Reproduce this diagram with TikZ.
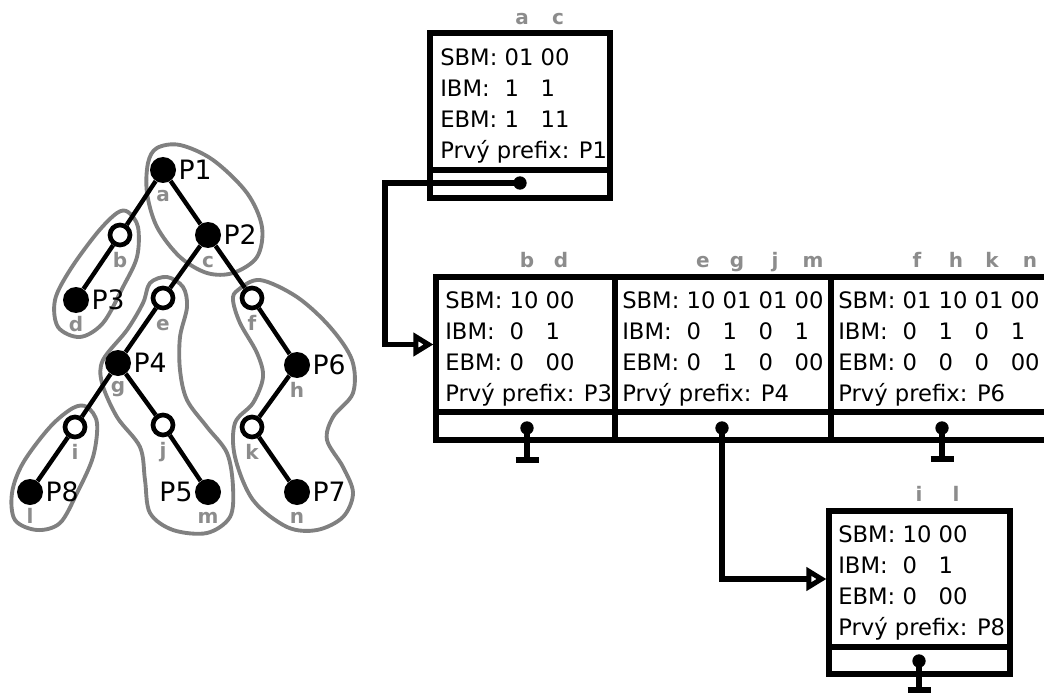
\documentclass[tikz,border=0pt]{standalone}
\usepackage{fontspec}
\setmainfont{DejaVu Sans}
\usetikzlibrary{arrows.meta,fit,calc}
\definecolor{lblgray}{HTML}{8C8C8C}
\definecolor{hullgray}{HTML}{808080}
\newlength\labw
\newlength\colw
\newcommand\boxfont{\fontsize{17pt}{23.25pt}\selectfont}
\newcommand\rw[1]{\makebox[\labw][l]{#1}}
\newcommand\cw[1]{\makebox[\colw][l]{#1}}
\AtBeginDocument{\setbox0\hbox{\normalfont\boxfont SBM:\ }\global\labw=\wd0
  \setbox0\hbox{\normalfont\boxfont 00\ }\global\colw=\wd0}
\tikzset{
  full/.style={circle, fill=black, inner sep=0pt, minimum size=19.5pt},
  open/.style={circle, draw=black, fill=white, line width=3.5pt, inner sep=0pt, minimum size=15pt},
  edge/.style={line width=3.3pt, black},
  hull/.style={line width=2.9pt, draw=hullgray},
  plab/.style={font=\fontsize{20pt}{22pt}\selectfont, inner sep=0pt},
  glab/.style={font=\fontsize{15pt}{17pt}\selectfont\bfseries, text=lblgray, inner sep=0pt, anchor=base},
  boxpart/.style={draw=black, line width=3.8pt, inner sep=0pt, rectangle},
  btext/.style={anchor=north west, inner sep=0pt, align=left, font=\boxfont},
  dot/.style={circle, fill=black, inner sep=0pt, minimum size=10pt},
  conn/.style={line width=3.8pt, black},
  arr/.style={conn, -{Triangle[open, length=15pt, width=17pt, fill=white]}}
}
\begin{document}
\begin{tikzpicture}[x=0.75pt,y=-0.75pt]
\useasboundingbox (0,0) rectangle (1044,695);
\clip (0,0) rectangle (1044,695);
% hulls
\draw[hull] plot[smooth cycle, tension=0.55] coordinates {(148,163) (157,148) (180,145) (213,160) (247,193) (262,227) (257,257) (233,273) (207,273) (180,257) (157,227) (147,193)};
\draw[hull] plot[smooth cycle, tension=0.55] coordinates {(128,212) (138,227) (137,257) (123,287) (103,323) (80,337) (58,327) (55,300) (70,270) (97,233) (117,213)};
\draw[hull] plot[smooth cycle, tension=0.55] coordinates {(150,283) (167,277) (183,287) (187,307) (180,337) (180,370) (187,400) (207,427) (227,453) (233,487) (230,517) (207,533) (173,530) (150,513) (145,480) (140,447) (117,417) (102,383) (103,360) (127,330) (143,303)};
\draw[hull] plot[smooth cycle, tension=0.55] coordinates {(238,290) (260,280) (297,297) (330,327) (352,360) (353,393) (333,417) (327,440) (343,467) (353,493) (343,517) (317,530) (287,527) (253,500) (235,457) (235,423) (253,403) (263,377) (257,353) (240,323) (233,300)};
\draw[hull] plot[smooth cycle, tension=0.55] coordinates {(87,407) (97,423) (93,457) (77,493) (60,523) (37,530) (15,520) (12,493) (23,463) (50,427) (73,408)};
% tree nodes
\node[full] (na) at (163,170) {};
\node[open] (nb) at (120,235) {};
\node[full] (nc) at (208,235) {};
\node[full] (nd) at (76,300) {};
\node[open] (ne) at (163,298) {};
\node[open] (nf) at (252,298) {};
\node[full] (ng) at (118,363) {};
\node[full] (nh) at (297,365) {};
\node[open] (ni) at (75,427) {};
\node[open] (nj) at (163,425) {};
\node[open] (nk) at (252,427) {};
\node[full] (nl) at (30,492) {};
\node[full] (nm) at (208,492) {};
\node[full] (nn) at (297,492) {};
% tree edges
\foreach \u/\v in {na/nb, na/nc, nb/nd, nc/ne, nc/nf, ne/ng, nf/nh, ng/ni, ng/nj, nh/nk, ni/nl, nj/nm, nk/nn}
  \draw[edge] (\u) -- (\v);
% prefix labels
\node[plab, anchor=west] (pa) at ([xshift=1.5pt]na.east) {P1};
\node[plab, anchor=west] (pc) at ([xshift=1.5pt]nc.east) {P2};
\node[plab, anchor=west] (pd) at ([xshift=1.5pt]nd.east) {P3};
\node[plab, anchor=west] (pg) at ([xshift=1.5pt]ng.east) {P4};
\node[plab, anchor=east] (pm) at ([xshift=-1.5pt]nm.west) {P5};
\node[plab, anchor=west] (ph) at ([xshift=1.5pt]nh.east) {P6};
\node[plab, anchor=west] (pn) at ([xshift=1.5pt]nn.east) {P7};
\node[plab, anchor=west] (pl) at ([xshift=1.5pt]nl.east) {P8};
% tree gray labels
\foreach \n/\x/\y in {a/163/202, b/120/267, c/208/267, d/76/331, e/163/330, f/252/330, g/118/392, h/297/397, i/75/459, j/163/457, k/252/459, l/30/523, m/208/523, n/297/523}
  \node[glab] (t\n) at (\x,\y) {\n};
% boxes
\node[boxpart, fit={(430,33)(610,170)}] (B1) {};
\node[boxpart, fit={(430,170)(610,198)}] (B1p) {};
\node[boxpart, fit={(436,277)(615,412)}] (B2) {};
\node[boxpart, fit={(436,412)(615,440)}] (B2p) {};
\node[boxpart, fit={(615,277)(831,412)}] (B3) {};
\node[boxpart, fit={(615,412)(831,440)}] (B3p) {};
\node[boxpart, fit={(831,277)(1050,412)}] (B5) {};
\node[boxpart, fit={(831,412)(1050,440)}] (B5p) {};
\node[boxpart, fit={(829,511)(1010,647)}] (B4) {};
\node[boxpart, fit={(829,647)(1010,674)}] (B4p) {};
% box texts
\node[btext] (T1) at (440,48) {\rw{SBM:}\cw{01}00\\\rw{IBM:}\cw{1}1\\\rw{EBM:}\cw{1}11\\Prvý prefix: P1};
\node[btext] (T2) at (445,291) {\rw{SBM:}\cw{10}00\\\rw{IBM:}\cw{0}1\\\rw{EBM:}\cw{0}00\\Prvý prefix: P3};
\node[btext] (T3) at (622,291) {\rw{SBM:}\cw{10}\cw{01}\cw{01}00\\\rw{IBM:}\cw{0}\cw{1}\cw{0}1\\\rw{EBM:}\cw{0}\cw{1}\cw{0}00\\Prvý prefix: P4};
\node[btext] (T5) at (838,291) {\rw{SBM:}\cw{01}\cw{10}\cw{01}00\\\rw{IBM:}\cw{0}\cw{1}\cw{0}1\\\rw{EBM:}\cw{0}\cw{0}\cw{0}00\\Prvý prefix: P6};
\node[btext] (T4) at (838,525) {\rw{SBM:}\cw{10}00\\\rw{IBM:}\cw{0}1\\\rw{EBM:}\cw{0}00\\Prvý prefix: P8};
% box gray labels
\foreach \n/\x/\y in {a/522/25, c/558/25, b/527/267, d/561/267, e/703/267, g/737/267, j/775/267, m/813/267, f/917/267, h/956/267, k/992/267, n/1030/267, i/919/501, l/956/501}
  \node[glab] (s\n) at (\x,\y) {\n};
% pointer dots
\node[dot] (d1) at (520,183) {};
\node[dot] (d2) at (527,428) {};
\node[dot] (d3) at (722,428) {};
\node[dot] (d5) at (942,428) {};
\node[dot] (d4) at (919,661) {};
% connectors
\coordinate (k1) at (385,183);
\draw[arr] (d1.center) -- (k1) |- (B2.west);
\draw[arr] (d3.center) |- (B4.west);
% null pointers
\coordinate (g2) at (527,460);
\coordinate (g5) at (942,459);
\coordinate (g4) at (919,690);
\foreach \g in {g2,g5,g4}{
  \draw[conn] ($(\g)+(-11.5,0)$) -- ($(\g)+(11.5,0)$);
}
\draw[conn] (d2.center) -- (g2);
\draw[conn] (d5.center) -- (g5);
\draw[conn] (d4.center) -- (g4);
\end{tikzpicture}
\end{document}
